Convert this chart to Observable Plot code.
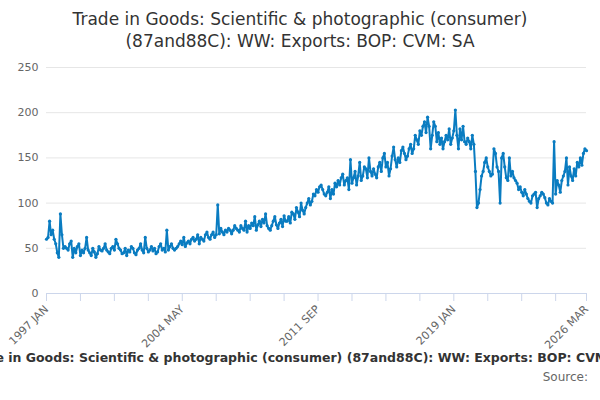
<!DOCTYPE html>
<html><head><meta charset="utf-8">
<script src="https://cdn.jsdelivr.net/npm/d3@7"></script>
<script src="https://cdn.jsdelivr.net/npm/@observablehq/plot@0.6"></script>
<style>
body{margin:0;background:#fff;font-family:"DejaVu Sans",sans-serif;width:600px;height:400px;overflow:hidden;position:relative}
#title{position:absolute;top:8px;left:0;width:600px;text-align:center;font-size:17px;color:#333;line-height:22px}
#chart{position:absolute;top:55px;left:0}
#chart svg{overflow:visible}
#cap{position:absolute;top:350px;left:300px;transform:translateX(-50%);white-space:nowrap;font-size:12.5px;font-weight:bold;color:#333}
#src{position:absolute;top:370px;right:12px;font-size:12px;color:#666}
</style></head><body>
<div id="title">Trade in Goods: Scientific &amp; photographic (consumer)<br>(87and88C): WW: Exports: BOP: CVM: SA</div>
<div id="chart"></div>
<div id="cap">Trade in Goods: Scientific &amp; photographic (consumer) (87and88C): WW: Exports: BOP: CVM: SA</div>
<div id="src">Source:</div>
<script>
const startYear = 1997;
const monthNames = ["JAN","FEB","MAR","APR","MAY","JUN","JUL","AUG","SEP","OCT","NOV","DEC"];
const values = [
60,62,80,65,70,60,55,45,40,88,65,50,
52,50,48,55,58,40,50,45,52,55,42,48,
45,50,62,48,45,42,50,46,40,44,52,48,
47,50,55,48,46,44,50,52,48,60,55,50,
48,44,45,50,42,48,46,52,50,45,43,48,
50,55,48,45,62,50,46,48,52,47,50,44,
46,52,55,48,50,46,70,48,52,55,50,48,
50,52,55,58,54,62,52,56,58,55,60,62,
58,60,65,55,62,60,58,65,68,62,60,65,
68,62,65,98,66,72,68,65,70,68,72,70,
66,70,75,72,70,68,75,72,70,80,68,75,
72,78,75,85,70,76,80,74,82,78,88,75,
72,70,75,80,85,76,72,78,82,74,86,80,
80,85,78,90,88,82,95,90,85,100,92,88,
95,100,105,98,102,110,108,115,112,118,120,115,
110,108,112,118,105,115,110,122,118,125,120,128,
132,120,125,128,115,148,122,128,135,120,130,145,
125,130,140,138,128,150,135,130,138,132,128,140,
145,135,150,155,140,145,130,138,152,162,148,140,
150,145,158,162,155,148,152,160,165,155,160,175,
170,165,180,175,185,190,178,195,185,160,175,190,
185,168,178,165,172,160,168,175,170,182,165,172,
180,203,175,160,182,170,185,168,165,172,168,160,
175,165,135,95,100,115,130,135,145,150,140,135,
130,132,160,155,140,135,100,150,155,140,128,125,
150,130,135,128,125,122,115,118,112,108,115,110,
105,102,100,108,110,112,95,105,108,112,110,106,
100,98,105,102,100,168,110,125,120,112,125,130,
135,150,120,140,130,125,138,130,145,140,150,142,
155,160,158];
const labels = values.map((_, i) => `${startYear + Math.floor(i / 12)} ${monthNames[i % 12]}`);
const data = values.map((v, i) => ({i, v}));
const n = values.length;
const ticks = d3.range(0, n - 1, 22).concat([n - 1]);
const labelTicks = [0, 88, 176, 264, n - 1];
const chart = Plot.plot({
  width: 600, height: 290,
  marginTop: 12, marginBottom: 52, marginLeft: 46, marginRight: 14,
  style: {fontFamily: "DejaVu Sans, sans-serif", fontSize: "11px", color: "#666", overflow: "visible"},
  x: {domain: [0, n - 1], axis: null},
  y: {domain: [0, 250], label: null},
  marks: [
    Plot.gridY([50, 100, 150, 200, 250], {stroke: "#e6e6e6", strokeOpacity: 1}),
    Plot.ruleY([0], {stroke: "#ccd6eb"}),
    Plot.axisX({ticks, tickSize: 8, stroke: "#ccd6eb", tickRotate: -45, tickFormat: d => labelTicks.includes(d) ? labels[d] : "", fill: "#666", label: null}),
    Plot.axisY([0, 50, 100, 150, 200, 250], {tickSize: 0, tickPadding: 8, label: null, fill: "#666"}),
    Plot.line(data, {x: "i", y: "v", stroke: "#0a7cc1", strokeWidth: 2}),
    Plot.dot(data, {x: "i", y: "v", r: 1.6, fill: "#0a7cc1"})
  ]
});
document.getElementById("chart").append(chart);
</script>
</body></html>
